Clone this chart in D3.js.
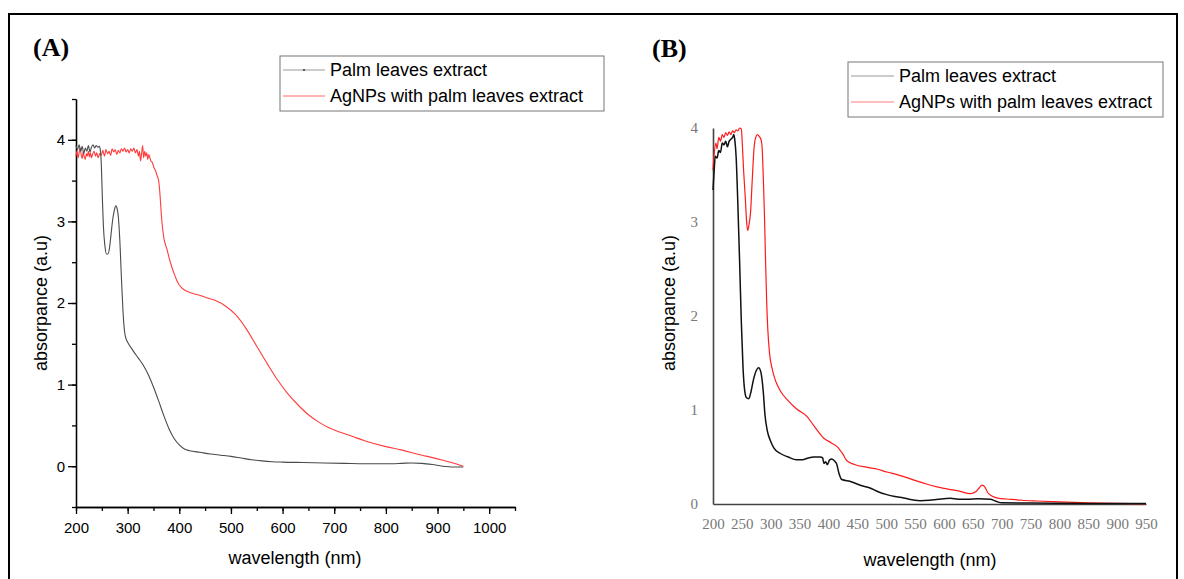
<!DOCTYPE html>
<html>
<head>
<meta charset="utf-8">
<script src="https://cdn.jsdelivr.net/npm/d3@7"></script>
<style>
  body { margin: 0; background: #fff; }
  svg { display: block; }
  .sans { font-family: "Liberation Sans", Arial, sans-serif; }
  .serif { font-family: "Liberation Serif", "Times New Roman", serif; }
</style>
</head>
<body>
<script>
// series names for both legends
const seriesNames = ["Palm leaves extract", "AgNPs with palm leaves extract"];

// (A) palm leaves extract  [wavelength nm, absorbance]
const palmA = [[200,3.93],[203,3.88],[206,3.94],[209,3.86],[212,3.92],[215,3.83],[218,3.90],[221,3.86],[224,3.93],[227,3.85],
  [230,3.91],[233,3.94],[236,3.90],[239,3.93],[242,3.91],[245,3.92],[247,3.88],[249,3.70],[251,3.30],[253,2.95],[256,2.70],
  [259,2.60],[262,2.60],[265,2.68],[268,2.85],[271,3.02],[274,3.13],[277,3.19],[279,3.17],[282,3.05],[285,2.75],[288,2.30],
  [291,1.90],[294,1.65],[297,1.56],[300,1.52],[310,1.42],[320,1.33],[330,1.24],[340,1.12],[350,0.97],[360,0.80],[370,0.62],
  [380,0.46],[390,0.34],[400,0.26],[410,0.21],[420,0.19],[440,0.17],[460,0.15],[480,0.135],[500,0.12],[520,0.10],[540,0.08],
  [560,0.065],[580,0.055],[600,0.05],[640,0.045],[680,0.04],[720,0.035],[760,0.03],[800,0.03],[830,0.035],[850,0.04],
  [870,0.035],[890,0.02],[910,0.0],[930,-0.01],[950,-0.01]];

// (A) AgNPs with palm leaves extract
const agA = [[200,3.80],[202,3.86],[204,3.78],[206,3.84],[208,3.90],[210,3.82],[212,3.77],[214,3.85],[216,3.79],[218,3.76],
  [220,3.83],[222,3.80],[224,3.86],[226,3.79],[228,3.84],[230,3.78],[232,3.82],[235,3.86],[238,3.80],[240,3.84],[243,3.78],
  [246,3.83],[249,3.81],[252,3.87],[255,3.80],[258,3.88],[261,3.83],[264,3.86],[267,3.81],[270,3.89],[273,3.85],[276,3.88],
  [279,3.82],[282,3.87],[285,3.84],[288,3.89],[291,3.86],[294,3.90],[297,3.85],[300,3.88],[303,3.84],[306,3.89],[309,3.86],
  [312,3.90],[315,3.84],[318,3.88],[321,3.80],[323,3.86],[325,3.74],[327,3.83],[329,3.93],[331,3.78],[333,3.86],[335,3.80],
  [337,3.84],[339,3.76],[341,3.82],[343,3.78],[345,3.74],[348,3.72],[351,3.66],[354,3.62],[357,3.56],[360,3.50],[362,3.38],
  [364,3.20],[366,3.02],[368,2.90],[370,2.80],[373,2.72],[376,2.66],[380,2.56],[385,2.45],[390,2.36],[395,2.28],[400,2.22],
  [410,2.16],[420,2.13],[430,2.11],[442,2.09],[455,2.06],[470,2.03],[490,1.96],[510,1.85],[530,1.68],[550,1.47],[570,1.26],
  [590,1.06],[610,0.89],[630,0.75],[650,0.63],[670,0.54],[690,0.47],[710,0.42],[733,0.37],[760,0.31],[800,0.24],[830,0.20],
  [860,0.15],[900,0.09],[930,0.04],[950,0.0]];

// (B) palm leaves extract
const palmB = [[200,3.34],[202,3.55],[204,3.70],[207,3.68],[210,3.76],[213,3.74],[216,3.84],[219,3.82],[222,3.86],[225,3.80],
  [228,3.86],[231,3.88],[234,3.90],[236,3.93],[238,3.86],[240,3.70],[243,3.20],[246,2.60],[249,1.95],[252,1.45],[255,1.20],
  [258,1.13],[262,1.12],[266,1.20],[270,1.32],[275,1.42],[279,1.45],[283,1.40],[287,1.20],[290,0.95],[294,0.78],[299,0.68],
  [305,0.60],[316,0.54],[330,0.50],[345,0.47],[355,0.47],[365,0.49],[375,0.50],[386,0.50],[390,0.49],[392,0.43],[395,0.45],
  [398,0.42],[402,0.47],[406,0.48],[410,0.46],[414,0.43],[418,0.33],[423,0.26],[438,0.24],[455,0.20],[472,0.17],[486,0.13],
  [501,0.10],[515,0.08],[530,0.065],[545,0.045],[559,0.035],[575,0.04],[590,0.05],[611,0.06],[625,0.05],[640,0.05],
  [660,0.055],[680,0.05],[690,0.03],[700,0.012],[750,0.01],[800,0.008],[850,0.006],[900,0.005],[950,0.005]];

// (B) AgNPs with palm leaves extract
const agB = [[200,3.55],[202,3.72],[205,3.84],[207,3.78],[210,3.90],[213,3.86],[216,3.93],[219,3.90],[222,3.95],[225,3.92],
  [228,3.96],[231,3.93],[234,3.97],[237,3.95],[240,3.98],[243,3.97],[246,4.00],[249,3.99],[251,3.80],[253,3.55],[256,3.25],
  [258,3.02],[260,2.91],[262,2.96],[265,3.10],[268,3.45],[271,3.78],[274,3.90],[277,3.93],[280,3.91],[283,3.88],[285,3.80],
  [287,3.50],[289,3.10],[291,2.60],[293,2.15],[295,1.85],[298,1.60],[302,1.45],[309,1.30],[317,1.20],[330,1.10],[345,1.01],
  [363,0.93],[375,0.83],[392,0.70],[405,0.65],[415,0.61],[425,0.53],[432,0.46],[445,0.42],[467,0.39],[485,0.37],[501,0.34],
  [520,0.31],[536,0.28],[555,0.24],[571,0.21],[590,0.18],[605,0.16],[625,0.14],[646,0.11],[655,0.13],[661,0.17],[666,0.20],
  [671,0.18],[676,0.12],[683,0.085],[695,0.06],[709,0.053],[735,0.04],[761,0.032],[800,0.022],[850,0.012],[900,0.006],[950,0.002]];

// tick values
const xTicksA = [200, 300, 400, 500, 600, 700, 800, 900, 1000];
const yTicksA = [0, 1, 2, 3, 4];
const xTicksB = [200, 250, 300, 350, 400, 450, 500, 550, 600, 650, 700, 750, 800, 850, 900, 950];
const yTicksB = [0, 1, 2, 3, 4];

const W = 1184, H = 579;
const fmt = d3.format("d");

const svg = d3.select("body").append("svg")
    .attr("width", W)
    .attr("height", H);

// outer frame
svg.append("rect")
    .attr("x", 9).attr("y", 14)
    .attr("width", 1168).attr("height", 600)
    .attr("fill", "none")
    .attr("stroke", "#000")
    .attr("stroke-width", 2);

//---------------- panel A ----------------
let xA = d3.scaleLinear().domain([200, 1050]).range([76, 515]);
let yA = d3.scaleLinear().domain([-0.5, 4.5]).range([507, 99]);

const axA = svg.append("g").attr("class", "sans axA");

// minor ticks first, then major ticks with labels
axA.append("g")
    .attr("transform", "translate(0,507)")
    .call(d3.axisBottom(xA).tickValues(d3.range(200, 1051, 50)).tickSize(4).tickSizeOuter(0).tickFormat(""));
axA.append("g")
    .attr("transform", "translate(0,507)")
    .call(d3.axisBottom(xA).tickValues(xTicksA).tickSize(7).tickSizeOuter(0).tickPadding(8).tickFormat(fmt));

axA.append("g")
    .attr("transform", "translate(76,0)")
    .call(d3.axisLeft(yA).tickValues(d3.range(-0.5, 4.51, 0.5)).tickSize(4).tickSizeOuter(0).tickFormat(""));
axA.append("g")
    .attr("transform", "translate(76,0)")
    .call(d3.axisLeft(yA).tickValues(yTicksA).tickSize(8).tickSizeOuter(0).tickPadding(3).tickFormat(fmt));

axA.selectAll("g.tick text").attr("font-size", 15).attr("font-family", "Liberation Sans, Arial, sans-serif");
axA.selectAll(".domain, g.tick line").attr("stroke", "#000").attr("stroke-width", 1.3);

const lineA = d3.line().curve(d3.curveMonotoneX).x(d => xA(d[0])).y(d => yA(d[1]));

svg.append("path")
    .datum(agA)
    .attr("d", lineA)
    .attr("fill", "none")
    .attr("stroke", "#ff3b3b")
    .attr("stroke-width", 1.1);

svg.append("path")
    .datum(palmA)
    .attr("d", lineA)
    .attr("fill", "none")
    .attr("stroke", "#4a4a4a")
    .attr("stroke-width", 1.1);

svg.append("text")
    .attr("class", "serif")
    .attr("x", 33).attr("y", 56)
    .attr("font-size", 26).attr("font-weight", "bold")
    .text("(A)");

svg.append("text")
    .attr("class", "sans")
    .attr("x", 295).attr("y", 564)
    .attr("font-size", 18)
    .attr("text-anchor", "middle")
    .text("wavelength (nm)");

svg.append("text")
    .attr("class", "sans")
    .attr("transform", "translate(47,303) rotate(-90)")
    .attr("font-size", 18)
    .attr("text-anchor", "middle")
    .text("absorpance (a.u)");

//---------------- panel B ----------------
let xB = d3.scaleLinear().domain([200, 950]).range([713, 1146]);
let yB = d3.scaleLinear().domain([0, 4]).range([504, 128]);

const axB = svg.append("g").attr("class", "serif axB");

axB.append("g")
    .attr("transform", "translate(0,504)")
    .call(d3.axisBottom(xB).tickValues(xTicksB).tickSize(0).tickPadding(14).tickFormat(fmt));

axB.append("g")
    .attr("transform", "translate(713,0)")
    .call(d3.axisLeft(yB).tickValues(yTicksB).tickSize(0).tickPadding(15).tickFormat(fmt));

axB.selectAll("g.tick text")
    .attr("font-size", 15)
    .attr("font-family", "Liberation Serif, Times New Roman, serif")
    .attr("fill", "#777");
axB.selectAll(".domain").attr("stroke", "#444").attr("stroke-width", 1.6);

const lineB = d3.line().curve(d3.curveMonotoneX).x(d => xB(d[0])).y(d => yB(d[1]));

svg.append("path")
    .datum(agB)
    .attr("d", lineB)
    .attr("fill", "none")
    .attr("stroke", "#ff1a1a")
    .attr("stroke-width", 1.2);

svg.append("path")
    .datum(palmB)
    .attr("d", lineB)
    .attr("fill", "none")
    .attr("stroke", "#111")
    .attr("stroke-width", 1.5);

svg.append("text")
    .attr("class", "serif")
    .attr("x", 652).attr("y", 57)
    .attr("font-size", 26).attr("font-weight", "bold")
    .text("(B)");

svg.append("text")
    .attr("class", "sans")
    .attr("x", 930).attr("y", 566)
    .attr("font-size", 18)
    .attr("text-anchor", "middle")
    .text("wavelength (nm)");

svg.append("text")
    .attr("class", "sans")
    .attr("transform", "translate(675,303) rotate(-90)")
    .attr("font-size", 18)
    .attr("text-anchor", "middle")
    .text("absorpance (a.u)");

//---------------- legends ----------------
function drawLegend(x, y, w, h, lineLen, gap, colors, dot) {
    const g = svg.append("g").attr("transform", "translate(" + x + "," + y + ")");
    g.append("rect")
        .attr("width", w).attr("height", h)
        .attr("fill", "#fff")
        .attr("stroke", "#777")
        .attr("stroke-width", 1);
    seriesNames.forEach((name, i) => {
        let ry = 14 + i * 26;
        g.append("line")
            .attr("x1", 3).attr("x2", 3 + lineLen)
            .attr("y1", ry).attr("y2", ry)
            .attr("stroke", colors[i])
            .attr("stroke-width", 1);
        if (dot && i == 0) {
            g.append("circle")
                .attr("cx", 3 + lineLen / 2).attr("cy", ry)
                .attr("r", 0.9).attr("fill", "#222");
        }
        g.append("text")
            .attr("class", "sans")
            .attr("x", 3 + lineLen + gap).attr("y", ry + 6)
            .attr("font-size", 18)
            .text(name);
    });
}

drawLegend(280, 56, 324, 55, 42, 5, ["#999", "#ff6a6a"], true);
drawLegend(848, 62, 315, 55, 43, 5, ["#999", "#ff7a7a"], false);
</script>
</body>
</html>
